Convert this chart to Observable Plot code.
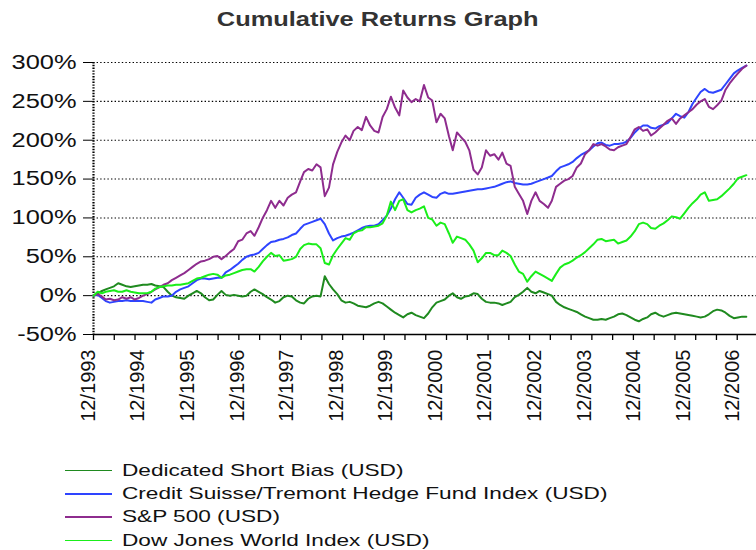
<!DOCTYPE html>
<html><head><meta charset="utf-8">
<script src="https://cdn.jsdelivr.net/npm/d3@7"></script>
<script src="https://cdn.jsdelivr.net/npm/@observablehq/plot@0.6"></script>
<style>
html,body{margin:0;padding:0;background:#fff;}
#wrap{position:relative;width:756px;height:550px;overflow:hidden;font-family:"Liberation Sans",Arial,sans-serif;}
#title{position:absolute;left:0;top:7px;width:756px;text-align:center;font-weight:bold;font-size:20px;line-height:24px;color:#333;}
#title span{display:inline-block;transform:scaleX(1.27);}
#chart{position:absolute;left:0;top:0;}
#legend{position:absolute;left:65px;top:459px;}
.row{height:23.3px;display:flex;align-items:center;}
.sw{width:47px;height:1.6px;margin-right:10px;flex:none;}
.lab{font-size:17px;color:#111;transform:scaleX(1.33);transform-origin:left center;white-space:nowrap;}
</style>
</head><body>
<div id="wrap">
  <div id="chart"></div>
  <div id="title"><span>Cumulative Returns Graph</span></div>
  <div id="legend"></div>
</div>
<script>
// Monthly cumulative returns (%) from 12/1993
const startMonth = "1993-12-01";
const seriesNames = ["Dedicated Short Bias (USD)", "Credit Suisse/Tremont Hedge Fund Index (USD)", "S&P 500 (USD)", "Dow Jones World Index (USD)"];
const seriesColors = ["#1f8a1f", "#2e44ff", "#8e2c8e", "#1aee1a"];

const dedicatedShort = [
  0, 3, 6, 8, 10, 12, 16, 14, 12, 11,
  12, 13, 14, 14, 15, 13, 12, 11, 5, 0,
  -2, -3, -4, 0, 3, 6, 3, -2, -6, -5,
  1, 6, 1, 0, 1, 0, -1, 0, 5, 8,
  5, 2, -2, -5, -9, -7, -2, 0, -1, -6,
  -9, -10, -4, -1, 0, -1, 25, 15, 8, 2,
  -6, -9, -8, -10, -13, -14, -15, -13, -10, -8,
  -10, -14, -18, -22, -25, -28, -24, -22, -25, -27,
  -29, -23, -15, -9, -7, -5, 0, 3, -2, -4,
  -1, 0, 3, 2, -4, -8, -9, -9, -10, -12,
  -10, -8, -2, 1, 5, 10, 5, 3, 6, 4,
  2, 0, -8, -12, -15, -17, -19, -21, -24, -27,
  -29, -31, -31, -30, -31, -29, -27, -24, -23, -25,
  -28, -31, -33, -30, -28, -24, -22, -25, -27, -25,
  -23, -22, -23, -24, -25, -26, -27, -28, -27, -24,
  -20, -18, -19, -22, -26, -29, -28, -27, -27
];
const hedgeFundIndex = [
  0, 1, -3, -7, -9, -8, -7, -7, -6, -7,
  -7, -7, -7, -8, -9, -5, -3, -1, -1, 0,
  5, 8, 10, 12, 16, 20, 22, 22, 21, 22,
  23, 23, 30, 33, 37, 41, 46, 50, 52, 53,
  55, 60, 65, 69, 70, 72, 73, 75, 78, 80,
  86, 91, 93, 95, 97, 99, 92, 80, 71, 74,
  76, 77, 79, 81, 84, 87, 89, 90, 90, 92,
  97, 103, 112, 124, 133, 126, 118, 117, 126, 130,
  133, 130, 127, 126, 131, 133, 131, 131, 132, 133,
  134, 135, 136, 137, 137, 138, 139, 140, 142, 144,
  146, 147, 145, 144, 143, 143, 144, 146, 148, 150,
  152, 154, 160, 165, 167, 169, 172, 177, 181, 184,
  187, 192, 196, 197, 194, 193, 195, 195, 196, 198,
  203, 210, 215, 219, 219, 216, 215, 218, 220, 222,
  228, 234, 231, 229, 236, 247, 255, 262, 266, 262,
  261, 263, 265, 272, 279, 286, 290, 293, 296
];
const sp500 = [
  0, 2, -1, -5, -4, -6, -5, -2, -4, -2,
  -5, -3, 0, 2, 5, 8, 11, 14, 16, 20,
  23, 26, 29, 33, 37, 41, 44, 45, 47, 50,
  51, 47, 51, 56, 60, 70, 72, 80, 83, 77,
  88, 100, 110, 122, 113, 122, 116, 126, 130, 133,
  147, 159, 163, 161, 169, 165, 128, 139, 169, 185,
  197, 206, 200, 212, 217, 213, 230, 219, 212, 210,
  230, 240, 256, 242, 232, 264, 255, 249, 253, 250,
  271, 255, 251, 223, 234, 228, 205, 187, 210, 204,
  198, 187, 162, 156, 165, 187, 180, 182, 175, 184,
  170, 167, 140, 131, 122, 105, 122, 133, 122, 118,
  113, 122, 140, 144, 148, 150, 154, 165, 170, 182,
  187, 195, 193, 195, 192, 188, 187, 191, 193, 195,
  204, 214, 217, 212, 214, 206, 210, 215, 220, 225,
  228, 221, 228, 232, 236, 240, 246, 250, 253, 243,
  240, 245, 251, 265, 273, 280, 286, 292, 296
];
const dowJonesWorld = [
  0, 5, 3, 5, 6, 7, 5, 5, 7, 5,
  4, 3, 3, 3, 5, 9, 11, 12, 13, 13,
  14, 14, 15, 16, 19, 22, 23, 25, 27, 28,
  27, 23, 26, 27, 29, 31, 33, 34, 34, 31,
  37, 44, 50, 55, 51, 52, 45, 46, 47, 50,
  60, 65, 67, 66, 66, 61, 42, 40, 52, 60,
  67, 74, 72, 80, 83, 84, 88, 88, 89, 90,
  93, 103, 121, 110, 122, 124, 110, 107, 110, 112,
  115, 100, 98, 90, 94, 92, 80, 68, 76, 74,
  72, 66, 58, 43, 48, 55, 55, 52, 52, 58,
  55, 51, 40, 31, 28, 18, 25, 31, 28, 25,
  22, 19, 28, 36, 40, 42, 45, 49, 52, 56,
  61, 66, 72, 73, 70, 71, 72, 67, 69, 71,
  76, 83, 92, 94, 92, 87, 86, 90, 93, 97,
  102, 101, 99, 106, 113, 119, 124, 130, 133, 122,
  123, 124, 128, 133, 138, 144, 151, 153, 155
];
const yTicks = [-50, 0, 50, 100, 150, 200, 250, 300];
const gridValues = [0, 50, 100, 150, 200, 250, 300];
const yearLabels = [1993, 1994, 1995, 1996, 1997, 1998, 1999, 2000, 2001, 2002, 2003, 2004, 2005, 2006];

const start = new Date(startMonth);
const xEnd = new Date("2007-04-17");
const seriesValues = [dedicatedShort, hedgeFundIndex, sp500, dowJonesWorld];
const rows = seriesValues.flatMap((vals, k) => vals.map((v, i) => ({date: d3.utcMonth.offset(start, i), value: v, series: seriesNames[k]})));
const yearTicks = yearLabels.map(y => new Date(Date.UTC(y, 11, 1)));
const minorTicks = d3.range(0, 33).map(k => d3.utcDay.offset(start, 153 * k)).filter(d => d <= xEnd);

const chart = Plot.plot({
  width: 756,
  height: 440,
  marginLeft: 93,
  marginRight: 0,
  marginTop: 62,
  marginBottom: 106,
  style: {fontFamily: "Liberation Sans, Arial, sans-serif", fontSize: "20px", color: "#000", background: "#fff", overflow: "visible"},
  x: {type: "utc", domain: [start, xEnd], label: null},
  y: {domain: [-50, 300], label: null},
  marks: [
    Plot.ruleY(gridValues, {stroke: "#000", strokeWidth: 1.1, strokeDasharray: "1.4,2.2"}),
    Plot.ruleX([start], {stroke: "#000", strokeWidth: 2.2, strokeDasharray: "1.4,1.4"}),
    Plot.ruleY([-50], {stroke: "#000", strokeWidth: 1.5}),
    Plot.axisX({ticks: minorTicks, tickSize: 6, tickFormat: () => "", stroke: "#000", strokeWidth: 1.3}),
    Plot.axisX({ticks: yearTicks, tickSize: 0, tickPadding: 15, tickRotate: -90, tickFormat: d3.utcFormat("12/%Y"), fontSize: 20, dx: -5, fill: "#111"}),
    Plot.axisY({ticks: yTicks, tickSize: 10, tickPadding: 7, tickFormat: d => d + "%", fontSize: 20, stroke: "#000", fill: "#111"}),
    ...seriesNames.map((name, k) => Plot.line(rows.filter(r => r.series === name), {x: "date", y: "value", stroke: seriesColors[k], strokeWidth: 2}))
  ]
});
document.getElementById("chart").appendChild(chart);

// widen y tick labels like the stretched reference
chart.querySelectorAll('g[aria-label="y-axis tick label"] text').forEach(t => {
  const tr = t.getAttribute("transform");
  if (tr) t.setAttribute("transform", tr + " scale(1.27,1)");
  else {
    const x = +t.getAttribute("x") || 0, y = +t.getAttribute("y") || 0;
    t.removeAttribute("x"); t.removeAttribute("y");
    t.setAttribute("transform", `translate(${x},${y}) scale(1.27,1)`);
  }
});

const legend = document.getElementById("legend");
seriesNames.forEach((name, k) => {
  const row = document.createElement("div");
  row.className = "row";
  const sw = document.createElement("div");
  sw.className = "sw";
  sw.style.backgroundColor = seriesColors[k];
  const lab = document.createElement("div");
  lab.className = "lab";
  lab.textContent = name;
  row.appendChild(sw); row.appendChild(lab);
  legend.appendChild(row);
});
</script>
</body></html>
